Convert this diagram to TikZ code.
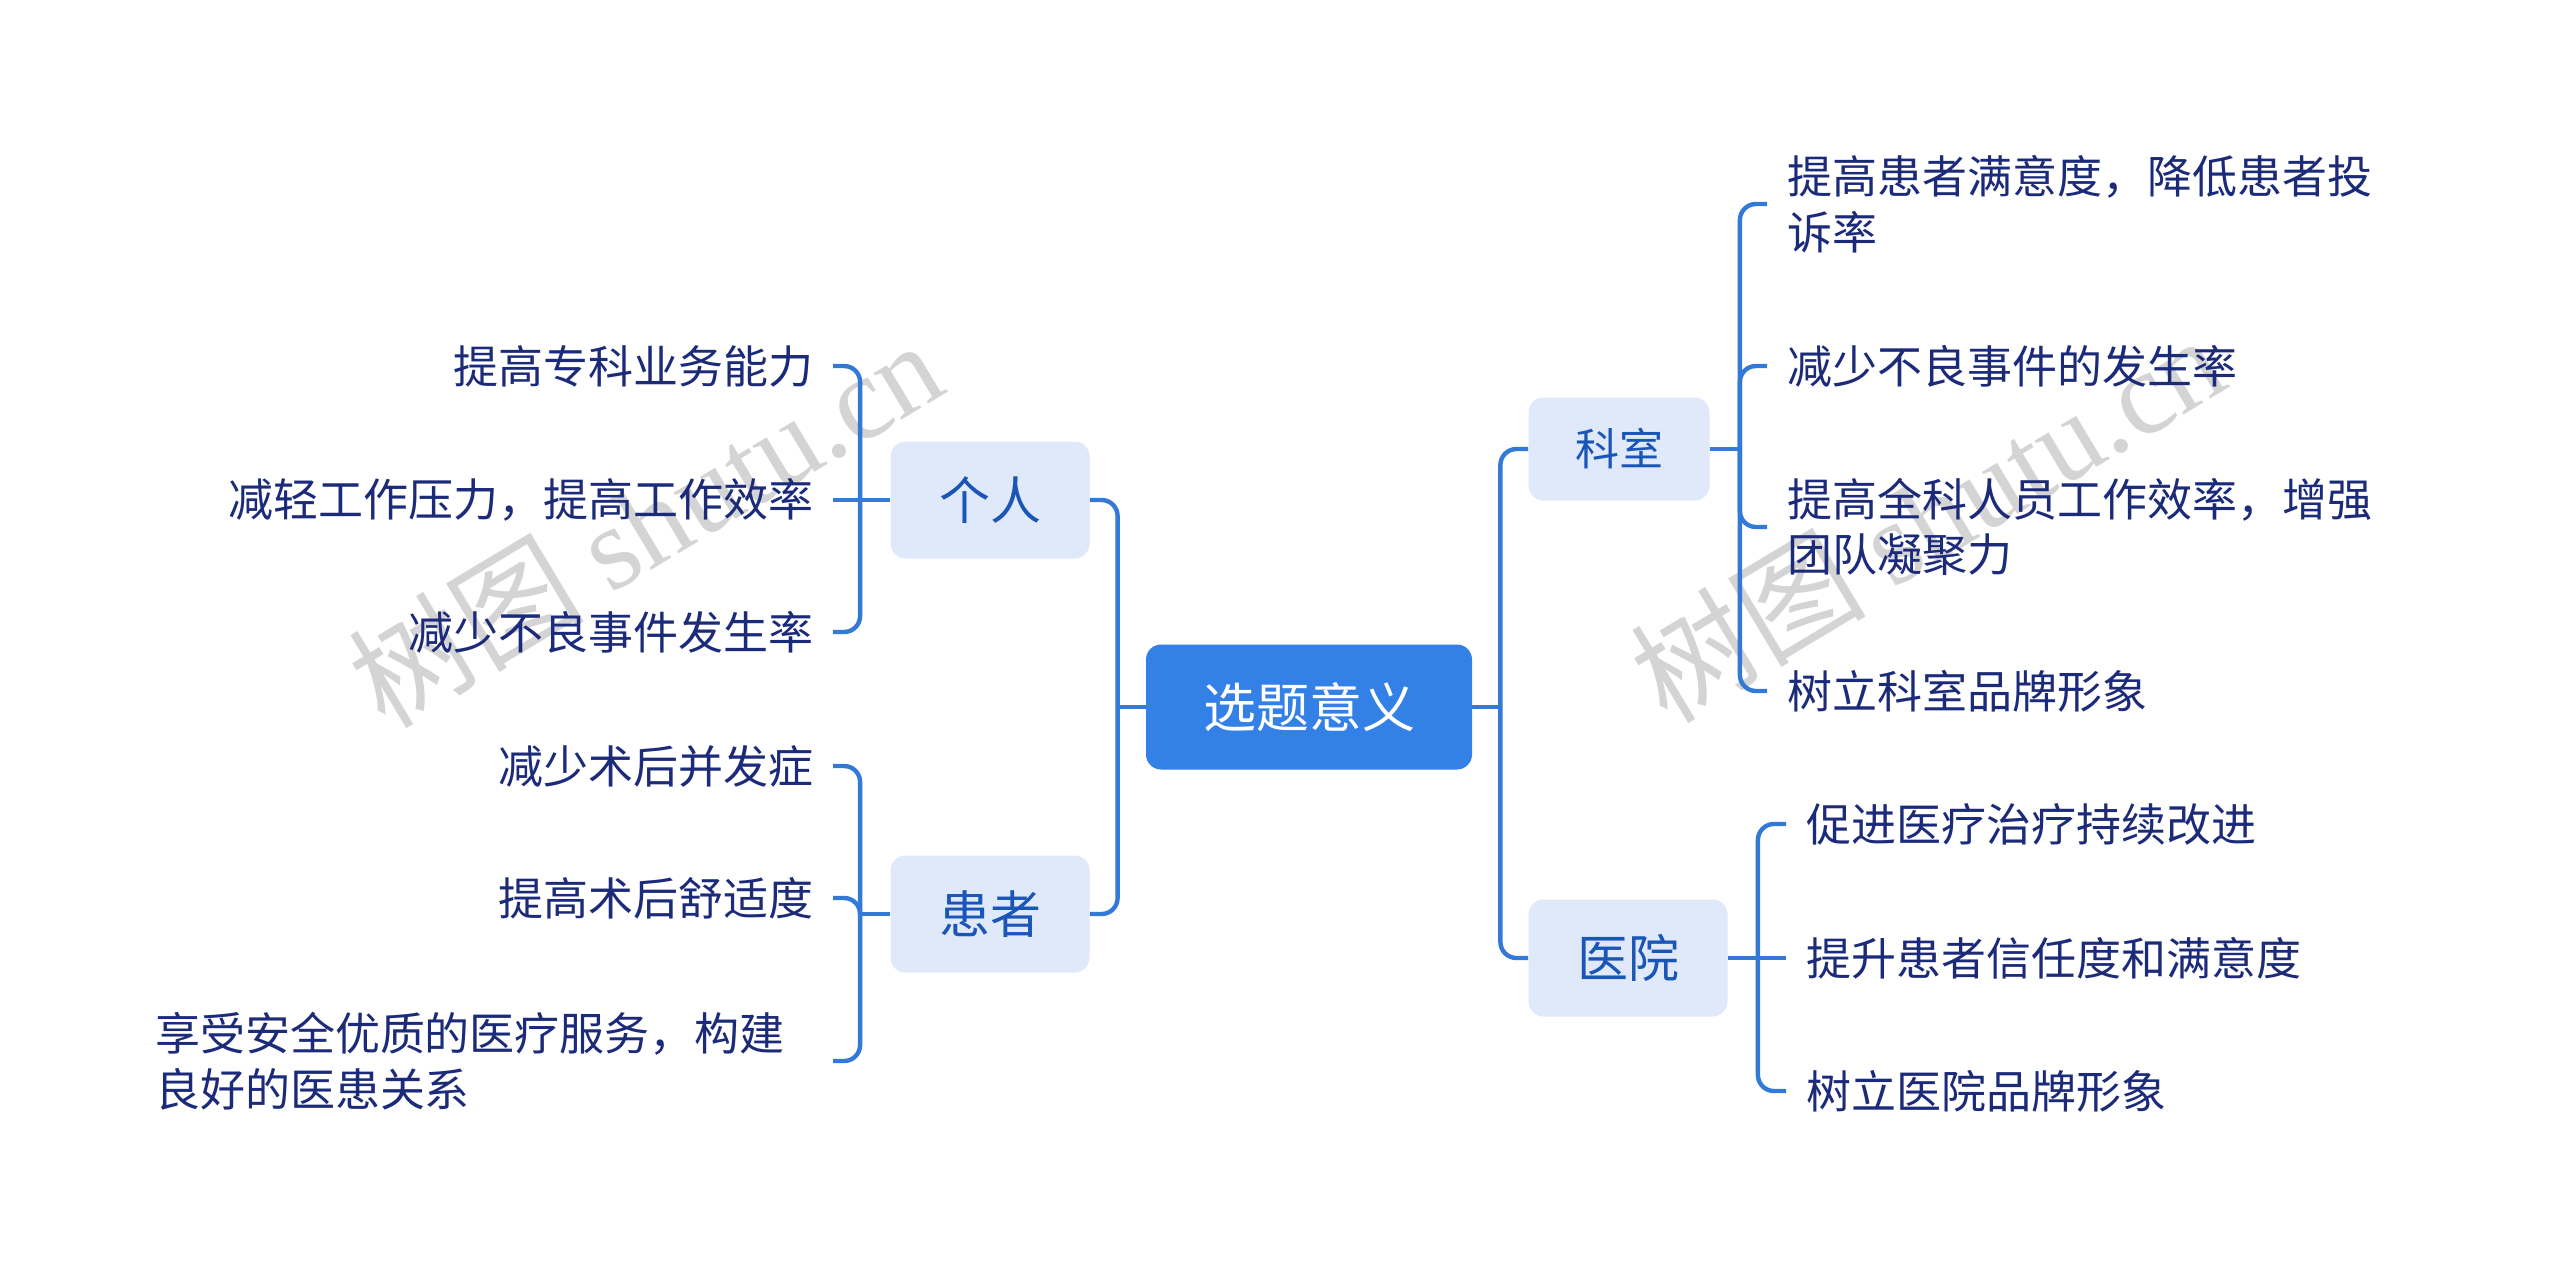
\documentclass[tikz,border=0pt]{standalone}
\usepackage{fontspec}
\setmainfont{Noto Sans CJK SC}
\newfontfamily\wmlatin{Liberation Serif}
\definecolor{rootc}{HTML}{3380E6}
\definecolor{boxc}{HTML}{E0E9FA}
\definecolor{midtext}{HTML}{1A55B8}
\definecolor{leaftext}{HTML}{1C2A7A}
\definecolor{linec}{HTML}{3279D8}
\definecolor{wmc}{HTML}{D4D4D4}
\begin{document}
\begin{tikzpicture}[x=0.5pt,y=-0.5pt,
  conn/.style={draw=linec, line width=2.2pt, rounded corners=8pt},
  rootbox/.style={fill=rootc, rounded corners=7.5pt, minimum width=163pt, minimum height=62.5pt, inner sep=0pt, text=white, font=\fontsize{26.5}{30}\selectfont},
  midbox/.style={fill=boxc, rounded corners=7.5pt, minimum width=99.5pt, minimum height=58.5pt, inner sep=0pt, text=midtext, font=\fontsize{25.5}{30}\selectfont},
  leaf/.style={inner sep=0pt, outer xsep=10pt, text=leaftext, font=\fontsize{22.5}{27.75}\selectfont},
  leafr/.style={leaf, anchor=west, align=left},
  leafl/.style={leaf, anchor=east, align=right},
  wm/.style={text=wmc, inner sep=0pt, font=\fontsize{59}{64}\selectfont}
]
\useasboundingbox[fill=white] (0,0) rectangle (2560,1269);

% watermarks
\node[wm, rotate=31] (wm1) at (645,522) {树图 {\wmlatin shutu.cn}};
\node[wm, rotate=31] (wm2) at (1927,517) {树图 {\wmlatin shutu.cn}};

% root and main branches
\node[rootbox] (c) at (1309,707) {选题意义};
\node[midbox] (gr) at (990,500) {个人};
\node[midbox] (hz) at (990,914) {患者};
\node[midbox, minimum width=90.5pt, minimum height=51.5pt, font=\fontsize{22}{26}\selectfont] (ks) at (1619,449) {科室};
\node[midbox] (yy) at (1628,958) {医院};

% leaves of 科室
\node[leafr] (k1) at (1767,204) {提高患者满意度，降低患者投\\诉率};
\node[leafr] (k2) at (1767,366) {减少不良事件的发生率};
\node[leafr] (k3) at (1767,527) {提高全科人员工作效率，增强\\团队凝聚力};
\node[leafr] (k4) at (1767,691) {树立科室品牌形象};
% leaves of 医院
\node[leafr] (y1) at (1786,824) {促进医疗治疗持续改进};
\node[leafr] (y2) at (1786,958) {提升患者信任度和满意度};
\node[leafr] (y3) at (1786,1091) {树立医院品牌形象};
% leaves of 个人
\node[leafl] (g1) at (833,366) {提高专科业务能力};
\node[leafl] (g2) at (833,500) {减轻工作压力，提高工作效率};
\node[leafl] (g3) at (833,632) {减少不良事件发生率};
% leaves of 患者
\node[leafl] (h1) at (833,766) {减少术后并发症};
\node[leafl] (h2) at (833,898) {提高术后舒适度};
\node[leaf, anchor=east, align=left, text width=329pt] (h3) at (833,1061) {享受安全优质的医疗服务，构建\\良好的医患关系};

% connectors: root
\draw[conn] (c.east) -- ([xshift=14pt]c.east);
\draw[conn] ([xshift=14pt]c.east) |- (ks.west);
\draw[conn] ([xshift=14pt]c.east) |- (yy.west);
\draw[conn] (c.west) -- ([xshift=-14pt]c.west);
\draw[conn] ([xshift=-14pt]c.west) |- (gr.east);
\draw[conn] ([xshift=-14pt]c.west) |- (hz.east);

% 科室
\draw[conn] (ks.east) -- ([xshift=15pt]ks.east);
\foreach \n in {k1,k2,k3,k4}
  \draw[conn] ([xshift=15pt]ks.east) |- (\n.west);
% 医院
\draw[conn] (yy.east) -- ([xshift=15pt]yy.east);
\foreach \n in {y1,y3}
  \draw[conn] ([xshift=15pt]yy.east) |- (\n.west);
\draw[conn] ([xshift=15pt]yy.east) -- (y2.west);
% 个人
\draw[conn] (gr.west) -- ([xshift=-15pt]gr.west);
\foreach \n in {g1,g3}
  \draw[conn] ([xshift=-15pt]gr.west) |- (\n.east);
\draw[conn] ([xshift=-15pt]gr.west) -- (g2.east);
% 患者
\draw[conn] (hz.west) -- ([xshift=-15pt]hz.west);
\foreach \n in {h1,h2,h3}
  \draw[conn] ([xshift=-15pt]hz.west) |- (\n.east);
\end{tikzpicture}
\end{document}
